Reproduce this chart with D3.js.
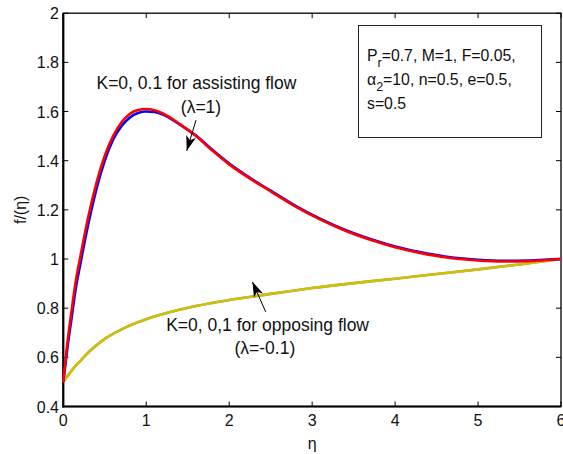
<!DOCTYPE html>
<html>
<head>
<meta charset="utf-8">
<script src="https://cdn.jsdelivr.net/npm/d3@7/dist/d3.min.js"></script>
<style>
  html, body { margin: 0; padding: 0; background: #fff; }
  svg { display: block; font-family: Arial, "Liberation Sans", sans-serif; }
</style>
</head>
<body>
<svg id="chart" width="563" height="454"></svg>
<script>
// ---- data ----
const etaAssist = [0, 0.05, 0.1, 0.15, 0.2, 0.3, 0.4, 0.5, 0.6, 0.7, 0.8, 0.9, 1.0, 1.1, 1.2, 1.4, 1.6, 1.8, 2.0, 2.2, 2.5, 2.8, 3.1, 3.4, 3.7, 4.0, 4.3, 4.6, 5.0, 5.3, 5.6, 5.8, 6.0];
const assistK0  = [0.5, 0.64, 0.76, 0.88, 0.97, 1.14, 1.285, 1.40, 1.485, 1.54, 1.575, 1.594, 1.60, 1.598, 1.588, 1.548, 1.502, 1.443, 1.388, 1.341, 1.278, 1.216, 1.163, 1.118, 1.081, 1.051, 1.028, 1.01, 0.997, 0.993, 0.994, 0.997, 1.0];
const assistK01 = [0.5, 0.66, 0.79, 0.91, 1.0, 1.17, 1.31, 1.42, 1.50, 1.555, 1.59, 1.606, 1.61, 1.605, 1.592, 1.55, 1.50, 1.44, 1.385, 1.338, 1.275, 1.213, 1.16, 1.115, 1.078, 1.048, 1.025, 1.007, 0.994, 0.99, 0.991, 0.995, 1.0];
const etaOppose = [0, 0.1, 0.2, 0.36, 0.5, 0.76, 1.0, 1.2, 1.6, 2.0, 2.4, 3.0, 3.5, 4.0, 4.5, 5.0, 5.5, 6.0];
const opposeK0  = [0.5, 0.546, 0.584, 0.638, 0.675, 0.723, 0.755, 0.776, 0.809, 0.833, 0.853, 0.882, 0.902, 0.92, 0.939, 0.958, 0.978, 1.0];
const opposeK01 = [0.5, 0.546, 0.584, 0.638, 0.675, 0.723, 0.755, 0.776, 0.809, 0.833, 0.853, 0.882, 0.902, 0.92, 0.939, 0.958, 0.978, 1.0];
const xTicks = [0, 1, 2, 3, 4, 5, 6];
const yTicks = [0.4, 0.6, 0.8, 1, 1.2, 1.4, 1.6, 1.8, 2];
const paramLines = [
  [["P", ""], ["r", "sub"], ["=0.7, M=1, F=0.05,", ""]],
  [["\u03B1", ""], ["2", "sub"], ["=10, n=0.5, e=0.5,", ""]],
  [["s=0.5", ""]]
];

// ---- layout ----
const svg = d3.select("#chart");
const L = 63.3, R = 561, T = 13.2, B = 406.5;
const x = d3.scaleLinear().domain([0, 6]).range([L, R]);
const y = d3.scaleLinear().domain([0.4, 2]).range([B, T]);

// frame (box on)
svg.append("rect").attr("x", L).attr("y", T).attr("width", R - L).attr("height", B - T)
  .attr("fill", "none").attr("stroke", "#000").attr("stroke-width", 1.3);

// ticks inward on all sides
const tk = 5;
const g = svg.append("g").attr("stroke", "#000").attr("stroke-width", 1);
xTicks.forEach(v => {
  g.append("line").attr("x1", x(v)).attr("x2", x(v)).attr("y1", B).attr("y2", B - tk);
  g.append("line").attr("x1", x(v)).attr("x2", x(v)).attr("y1", T).attr("y2", T + tk);
});
yTicks.forEach(v => {
  g.append("line").attr("x1", L).attr("x2", L + tk).attr("y1", y(v)).attr("y2", y(v));
  g.append("line").attr("x1", R).attr("x2", R - tk).attr("y1", y(v)).attr("y2", y(v));
});
// thicker left & bottom axis lines
svg.append("line").attr("x1", L).attr("x2", L).attr("y1", T).attr("y2", B + 1).attr("stroke", "#000").attr("stroke-width", 2.2);
svg.append("line").attr("x1", L - 1).attr("x2", R).attr("y1", B).attr("y2", B).attr("stroke", "#000").attr("stroke-width", 2.2);

// tick labels
const fs = 16;
svg.append("g").selectAll("text").data(xTicks).join("text")
  .attr("x", d => x(d)).attr("y", 426).attr("text-anchor", "middle")
  .attr("font-size", fs).attr("fill", "#111").text(d => d);
svg.append("g").selectAll("text").data(yTicks).join("text")
  .attr("x", 59).attr("y", d => y(d) + 6).attr("text-anchor", "end")
  .attr("font-size", fs).attr("fill", "#111").text(d => d);

// axis labels
svg.append("text").attr("x", (L + R) / 2).attr("y", 449).attr("text-anchor", "middle")
  .attr("font-size", fs).attr("fill", "#111").text("\u03B7");
svg.append("text").attr("transform", `translate(26,${(T + B) / 2}) rotate(-90)`)
  .attr("text-anchor", "middle").attr("font-size", fs).attr("fill", "#111")
  .text("f/(\u03B7)");

// curves
const line = d3.line().x(d => x(d[0])).y(d => y(d[1])).curve(d3.curveMonotoneX);
function draw(xs, ys, color, w) {
  svg.append("path").datum(xs.map((v, i) => [v, ys[i]]))
    .attr("d", line).attr("fill", "none").attr("stroke", color)
    .attr("stroke-width", w).attr("stroke-linejoin", "round");
}
draw(etaOppose, opposeK01, "#d070d0", 2.6);
draw(etaOppose, opposeK0, "#c8c400", 2.6);
draw(etaAssist, assistK0, "#0000ff", 2.6);
draw(etaAssist, assistK01, "#ff0000", 2.6);

// annotations
function arrow(x1, y1, x2, y2) {
  svg.append("line").attr("x1", x1).attr("y1", y1).attr("x2", x2).attr("y2", y2)
    .attr("stroke", "#000").attr("stroke-width", 1);
  const ang = Math.atan2(y2 - y1, x2 - x1);
  const len = 15, half = 5;
  const bx = x2 - len * Math.cos(ang), by = y2 - len * Math.sin(ang);
  const px = -Math.sin(ang) * half, py = Math.cos(ang) * half;
  svg.append("path").attr("d", `M${x2},${y2}L${bx + px},${by + py}L${bx + 4 * Math.cos(ang)},${by + 4 * Math.sin(ang)}L${bx - px},${by - py}Z`)
    .attr("fill", "#000");
}
arrow(x(1.60), y(1.565), x(1.488), y(1.44));
arrow(x(2.44), y(0.785), x(2.28), y(0.907));

const afs = 17.5;
svg.append("text").attr("x", x(0.4)).attr("y", y(1.69)).attr("font-size", afs).attr("fill", "#111")
  .text("K=0, 0.1 for assisting flow");
svg.append("text").attr("x", x(1.66)).attr("y", y(1.595)).attr("text-anchor", "middle").attr("font-size", afs).attr("fill", "#111")
  .text("(\u03BB=1)");
svg.append("text").attr("x", x(1.24)).attr("y", y(0.706)).attr("font-size", afs).attr("fill", "#111")
  .text("K=0, 0,1 for opposing flow");
svg.append("text").attr("x", x(2.43)).attr("y", y(0.612)).attr("text-anchor", "middle").attr("font-size", afs).attr("fill", "#111")
  .text("(\u03BB=-0.1)");

// parameter box
svg.append("rect").attr("x", 358.5).attr("y", 25.5).attr("width", 183).attr("height", 112)
  .attr("fill", "#fff").attr("stroke", "#222").attr("stroke-width", 1);
const baselines = [61, 85, 109];
paramLines.forEach((parts, i) => {
  const t = svg.append("text").attr("x", 367).attr("y", baselines[i]).attr("font-size", 15.8).attr("fill", "#111");
  parts.forEach(([s, kind]) => {
    const sp = t.append("tspan").text(s);
    if (kind === "sub") sp.attr("dy", 6).attr("font-size", 12.5);
    else if (t.selectAll("tspan").size() > 1) sp.attr("dy", -6);
  });
});
</script>
</body>
</html>
